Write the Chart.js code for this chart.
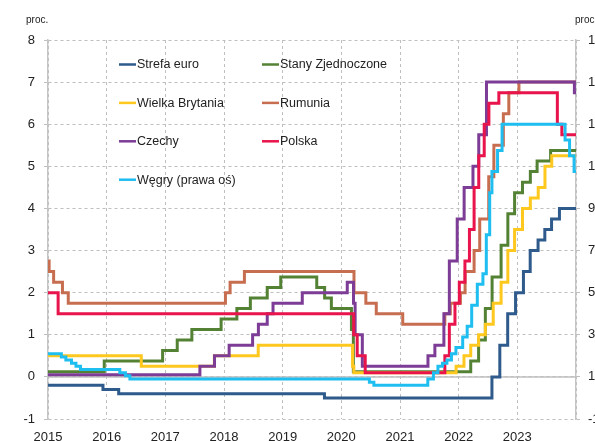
<!DOCTYPE html>
<html>
<head>
<meta charset="utf-8">
<script src="https://cdn.jsdelivr.net/npm/chart.js@4"></script>
<style>
    html, body { margin: 0; padding: 0; background: #fff; overflow: hidden; width: 595px; height: 441px; }
    #wrap { position: absolute; left: 0; top: 0; width: 640px; height: 441px; }
</style>
</head>
<body>
<div id="wrap"><canvas id="rates" width="640" height="441"></canvas></div>
<script>
// Policy rates, change dates and new levels (per cent)
const strefaEuro = [
    ['2015-01-01', -0.2], ['2015-12-09', -0.3], ['2016-03-16', -0.4], ['2019-09-18', -0.5],
    ['2022-07-27', 0.0], ['2022-09-14', 0.75], ['2022-11-02', 1.5], ['2022-12-21', 2.0],
    ['2023-02-08', 2.5], ['2023-03-22', 3.0], ['2023-05-10', 3.25], ['2023-06-21', 3.5],
    ['2023-08-02', 3.75], ['2023-09-20', 4.0], ['2024-01-01', 4.0],
];

const stanyZjednoczone = [
    ['2015-01-01', 0.125], ['2015-12-17', 0.375], ['2016-12-15', 0.625], ['2017-03-16', 0.875],
    ['2017-06-15', 1.125], ['2017-12-14', 1.375], ['2018-03-22', 1.625], ['2018-06-14', 1.875],
    ['2018-09-27', 2.125], ['2018-12-20', 2.375], ['2019-08-01', 2.125], ['2019-09-19', 1.875],
    ['2019-10-31', 1.625], ['2020-03-04', 1.125], ['2020-03-16', 0.125], ['2022-03-17', 0.375],
    ['2022-05-05', 0.875], ['2022-06-16', 1.625], ['2022-07-28', 2.375], ['2022-09-22', 3.125],
    ['2022-11-03', 3.875], ['2022-12-15', 4.375], ['2023-02-02', 4.625], ['2023-03-23', 4.875],
    ['2023-05-04', 5.125], ['2023-07-27', 5.375], ['2024-01-01', 5.375],
];

const wielkaBrytania = [
    ['2015-01-01', 0.5], ['2016-08-04', 0.25], ['2017-11-02', 0.5], ['2018-08-02', 0.75],
    ['2020-03-11', 0.25], ['2020-03-19', 0.1], ['2021-12-16', 0.25], ['2022-02-03', 0.5],
    ['2022-03-17', 0.75], ['2022-05-05', 1.0], ['2022-06-16', 1.25], ['2022-08-04', 1.75],
    ['2022-09-22', 2.25], ['2022-11-03', 3.0], ['2022-12-15', 3.5], ['2023-02-02', 4.0],
    ['2023-03-23', 4.25], ['2023-05-11', 4.5], ['2023-06-22', 5.0], ['2023-08-03', 5.25],
    ['2024-01-01', 5.25],
];

const rumunia = [
    ['2015-01-01', 2.75], ['2015-01-08', 2.5], ['2015-02-05', 2.25], ['2015-04-01', 2.0],
    ['2015-05-07', 1.75], ['2018-01-10', 2.0], ['2018-02-08', 2.25], ['2018-05-08', 2.5],
    ['2020-03-20', 2.0], ['2020-06-02', 1.75], ['2020-08-06', 1.5], ['2021-01-18', 1.25],
    ['2021-10-07', 1.5], ['2021-11-10', 1.75], ['2022-01-12', 2.0], ['2022-02-10', 2.5],
    ['2022-04-07', 3.0], ['2022-05-12', 3.75], ['2022-07-07', 4.75], ['2022-08-08', 5.5],
    ['2022-10-06', 6.25], ['2022-11-09', 6.75], ['2023-01-11', 7.0], ['2024-01-01', 7.0],
];

const czechy = [
    ['2015-01-01', 0.05], ['2017-08-04', 0.25], ['2017-11-03', 0.5], ['2018-02-02', 0.75],
    ['2018-06-28', 1.0], ['2018-08-03', 1.25], ['2018-09-27', 1.5], ['2018-11-02', 1.75],
    ['2019-05-03', 2.0], ['2020-02-07', 2.25], ['2020-03-17', 1.75], ['2020-03-27', 1.0],
    ['2020-05-11', 0.25], ['2021-06-24', 0.5], ['2021-08-06', 0.75], ['2021-10-01', 1.5],
    ['2021-11-04', 2.75], ['2021-12-23', 3.75], ['2022-02-04', 4.5], ['2022-03-31', 5.0],
    ['2022-05-06', 5.75], ['2022-06-23', 7.0], ['2023-12-22', 6.75], ['2024-01-01', 6.75],
];

const polska = [
    ['2015-01-01', 2.0], ['2015-03-05', 1.5], ['2020-03-18', 1.0], ['2020-04-09', 0.5],
    ['2020-05-29', 0.1], ['2021-10-07', 0.5], ['2021-11-04', 1.25], ['2021-12-09', 1.75],
    ['2022-01-05', 2.25], ['2022-02-09', 2.75], ['2022-03-09', 3.5], ['2022-04-07', 4.5],
    ['2022-05-06', 5.25], ['2022-06-09', 6.0], ['2022-07-08', 6.5], ['2022-09-08', 6.75],
    ['2023-09-07', 6.0], ['2023-10-05', 5.75], ['2024-01-01', 5.75],
];

// right axis
const wegry = [
    ['2015-01-01', 2.1], ['2015-03-25', 1.95], ['2015-04-22', 1.8], ['2015-05-27', 1.65],
    ['2015-06-24', 1.5], ['2015-07-22', 1.35], ['2016-03-23', 1.2], ['2016-04-27', 1.05],
    ['2016-05-25', 0.9], ['2020-06-24', 0.75], ['2020-07-22', 0.6], ['2021-06-23', 0.9],
    ['2021-07-28', 1.2], ['2021-08-25', 1.5], ['2021-09-22', 1.65], ['2021-10-20', 1.8],
    ['2021-11-17', 2.1], ['2021-12-15', 2.4], ['2022-01-26', 2.9], ['2022-02-23', 3.4],
    ['2022-03-23', 4.4], ['2022-04-27', 5.4], ['2022-06-01', 5.9], ['2022-06-22', 7.75],
    ['2022-07-13', 9.75], ['2022-07-27', 10.75], ['2022-08-31', 11.75], ['2022-09-28', 13.0],
    ['2023-10-25', 12.25], ['2023-11-22', 11.5], ['2023-12-20', 10.75], ['2024-01-01', 10.75],
];

const seriesNames = ['Strefa euro', 'Stany Zjednoczone', 'Wielka Brytania', 'Rumunia', 'Czechy', 'Polska', 'Węgry (prawa oś)'];
const seriesData = [strefaEuro, stanyZjednoczone, wielkaBrytania, rumunia, czechy, polska, wegry];
const seriesColors = ['#2E5A8C', '#548235', '#FFC81E', '#C86E50', '#7D3C96', '#E8144B', '#1EBEF0'];
const seriesAxis = ['y', 'y', 'y', 'y', 'y', 'y', 'y1'];

const xMin = 2015, xMax = 2024;
const leftMin = -1, leftMax = 8;
const rightMin = -1, rightMax = 17;

const FONT = '"Liberation Sans", Arial, sans-serif';
const GRID = '#BFBFBF';

function toYear(d)
{
    const [y, m, day] = d.split('-').map(Number);
    const start = Date.UTC(y, 0, 1);
    const end = Date.UTC(y + 1, 0, 1);
    return y + (Date.UTC(y, m - 1, day) - start) / (end - start);
}

// solid zero line over the dashed grid
const zeroLine = {
    id: 'zeroLine',
    beforeDatasetsDraw(chart) {
        const { ctx, chartArea, scales } = chart;
        const y = scales.y.getPixelForValue(0);
        ctx.save();
        ctx.strokeStyle = GRID;
        ctx.lineWidth = 1.5;
        ctx.beginPath();
        ctx.moveTo(chartArea.left, y);
        ctx.lineTo(chartArea.right, y);
        ctx.stroke();
        ctx.restore();
    }
};

// two-column legend inside the plot, plus the unit labels
const insideLegend = {
    id: 'insideLegend',
    afterDraw(chart) {
        const ctx = chart.ctx;
        ctx.save();
        ctx.font = '12.5px ' + FONT;
        ctx.textBaseline = 'middle';
        ctx.textAlign = 'left';
        chart.data.datasets.forEach((ds, i) => {
            const x = 119 + (i % 2) * 143;
            const y = 64.5 + Math.floor(i / 2) * 38.4;
            ctx.strokeStyle = ds.borderColor;
            ctx.lineWidth = 2.5;
            ctx.beginPath();
            ctx.moveTo(x, y);
            ctx.lineTo(x + 17, y);
            ctx.stroke();
            ctx.fillStyle = '#222';
            ctx.fillText(ds.label, x + 18, y + 0.5);
        });
        ctx.font = '10px ' + FONT;
        ctx.fillText('proc.', 26, 20);
        ctx.fillText('proc.', 575, 20);
        ctx.restore();
    }
};

new Chart(document.getElementById('rates'), {
    type: 'line',
    data: {
        datasets: seriesData.map((s, i) => ({
            label: seriesNames[i],
            data: s.map(p => ({ x: toYear(p[0]), y: p[1] })),
            yAxisID: seriesAxis[i],
            borderColor: seriesColors[i],
            backgroundColor: seriesColors[i],
            borderWidth: 3,
            pointRadius: 0,
            stepped: true,
            fill: false,
            order: seriesData.length - i,
        }))
    },
    options: {
        responsive: false,
        animation: false,
        events: [],
        layout: { padding: { top: 40, left: 0, right: 0, bottom: 0 } },
        plugins: {
            legend: { display: false },
            tooltip: { enabled: false },
        },
        scales: {
            x: {
                type: 'linear',
                min: xMin,
                max: xMax,
                afterFit(scale) { scale.height = 22; },
                grid: { color: GRID, lineWidth: 1, drawTicks: false },
                border: { display: false, dash: [3, 3] },
                ticks: {
                    stepSize: 1,
                    padding: 11,
                    color: '#222',
                    font: { family: FONT, size: 13 },
                    maxRotation: 0,
                    autoSkip: false,
                    callback: v => (v === xMax ? '' : String(v)),
                },
            },
            y: {
                position: 'left',
                min: leftMin,
                max: leftMax,
                afterFit(scale) { scale.width = 48; },
                grid: { color: GRID, lineWidth: 1, tickLength: 4, tickColor: GRID },
                border: { display: true, color: '#C4C4C4', width: 1.5, dash: [3, 3] },
                ticks: {
                    stepSize: 1,
                    padding: 9,
                    color: '#222',
                    font: { family: FONT, size: 13 },
                    callback: v => String(v),
                },
            },
            y1: {
                position: 'right',
                min: rightMin,
                max: rightMax,
                afterFit(scale) { scale.width = 640 - 576; },
                grid: { drawOnChartArea: false, tickLength: 4, tickColor: GRID },
                border: { display: true, color: '#C4C4C4', width: 1.5 },
                ticks: {
                    stepSize: 2,
                    padding: 8,
                    color: '#222',
                    font: { family: FONT, size: 13 },
                    callback: v => String(v),
                },
            },
        },
    },
    plugins: [zeroLine, insideLegend],
});
</script>
</body>
</html>
